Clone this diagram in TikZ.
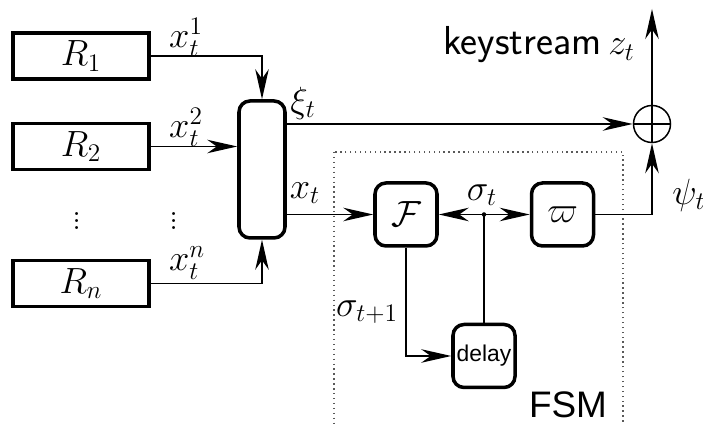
\documentclass[tikz,border=0pt]{standalone}
\usepackage{fontspec}
\newfontfamily\helv{Liberation Sans}
\usetikzlibrary{arrows.meta}

\tikzset{
    >={Stealth[length=6mm,width=2.7mm,inset=1.9mm]},
    wire/.style={line width=0.85pt},
    reg/.style={draw,line width=2pt,minimum width=2.72cm,minimum height=0.92cm,font=\huge},
    blk/.style={draw,line width=2pt,rounded corners=0.22cm,minimum width=1.24cm,minimum height=1.26cm,font=\huge},
    lbl/.style={font=\huge,inner sep=0pt}
}

\begin{document}
\begin{tikzpicture}
                        \useasboundingbox (0,0) rectangle (14.06,8.5);

                        % Registers
                        \node [reg] (r1) at (1.62,7.38) {$R_1$};
                        \node [reg] (r2) at (1.62,5.57) {$R_2$};
                        \node [reg] (rn) at (1.62,2.83) {$R_n$};
                        \node [lbl] (dl) at (1.54,4.18) {$\vdots$};
                        \node [lbl] (dr) at (3.48,4.18) {$\vdots$};

                        % Combiner
                        \node [draw,line width=2pt,rounded corners=0.22cm,minimum width=0.92cm,minimum height=2.74cm] (comb) at (5.24,5.11) {};

                        % FSM
                        \draw [dotted,line width=0.8pt,gray!70!black] (6.68,5.46) rectangle (12.46,-0.3);
                        \node [font=\helv\fontsize{21}{24}\selectfont] (fsm) at (11.36,0.4) {FSM};
                        \node [blk] (F) at (8.12,4.21) {$\mathcal{F}$};
                        \node [blk] (w) at (11.25,4.21) {$\varpi$};
                        \node [blk,font=\helv\fontsize{13}{15}\selectfont,inner sep=0pt] (delay) at (9.68,1.38) {delay};
                        \coordinate (sig) at (9.68,4.21);
                        \fill (sig) circle (0.045);

                        % Output
                        \node [draw,circle,wire,inner sep=0pt,minimum size=0.74cm] (xor) at (13.04,6.02) {};
                        \draw [wire] (xor.north) -- (xor.south);
                        \draw [wire] (xor.west) -- (xor.east);
                        \coordinate (zt) at (13.04,8.32);

                        % Wires
                        \draw [wire,->] (r1.east) -| (comb.north);
                        \draw [wire,->] (r2.east) -- (r2.east -| comb.west);
                        \draw [wire,->] (rn.east) -| (comb.south);
                        \draw [wire,->] (comb.east |- xor.west) -- (xor.west);
                        \draw [wire,->] (comb.east |- F.west) -- (F.west);
                        \draw [wire,->] (sig) -- (F.east);
                        \draw [wire,->] (sig) -- (w.west);
                        \draw [wire,->] (F.south) |- (delay.west);
                        \draw [wire] (delay.north) -- (sig);
                        \draw [wire,->] (w.east) -| (xor.south);
                        \draw [wire,->] (xor.north) -- (zt);

                        % Labels
                        \node [lbl] (x1) at (3.72,7.76) {$x_t^1$};
                        \node [lbl] (x2) at (3.72,5.96) {$x_t^2$};
                        \node [lbl] (xn) at (3.74,3.24) {$x_t^n$};
                        \node [lbl] (xi) at (6.06,6.44) {$\xi_t$};
                        \node [lbl] (xt) at (6.1,4.64) {$x_t$};
                        \node [lbl] (st) at (9.64,4.6) {$\sigma_t$};
                        \node [lbl] (st1) at (7.34,2.26) {$\sigma_{t+1}$};
                        \node [lbl,anchor=west] (psi) at (13.44,4.6) {$\psi_t$};
                        \node [lbl,anchor=base west] (z) at (12.16,7.4) {$z_t$};
                        \node [lbl,anchor=base east,font=\sffamily\fontsize{23}{26}\selectfont] (ks) at (12.04,7.4) {keystream};
                    \end{tikzpicture}
\end{document}
